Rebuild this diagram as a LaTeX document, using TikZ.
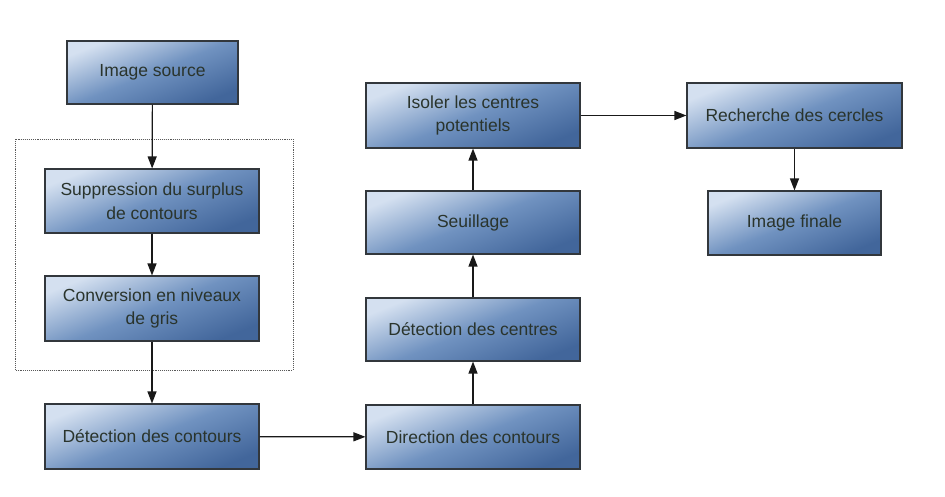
\documentclass[tikz,border=0pt]{standalone}
\usepackage{fontspec}
\setmainfont{Liberation Sans}
\usetikzlibrary{arrows.meta,shadows}
\definecolor{boxlight}{RGB}{212,224,240}
\definecolor{boxmid}{RGB}{112,146,192}
\definecolor{boxdark}{RGB}{66,102,155}
\definecolor{boxtext}{RGB}{42,52,44}
\definecolor{boxedge}{RGB}{50,55,60}
\tikzset{
  stepbox/.style={draw=boxedge, line width=1.1pt, inner sep=0pt,
    top color=boxlight, bottom color=boxdark, middle color=boxmid, shading angle=22,
    text=boxtext, align=center,
    font=\fontsize{17.5}{23.5}\selectfont,
    drop shadow={shadow xshift=1.2pt, shadow yshift=-1.2pt, opacity=0.25, fill=black}},
  flow/.style={draw=black!90, line width=1.2pt, -{Triangle[length=12pt,width=9pt]}},
  groupbox/.style={draw=black!65, line width=0.9pt, densely dotted}
}
\begin{document}
\begin{tikzpicture}[x=1pt,y=-1pt]
\useasboundingbox (0,0) rectangle (945,496);
\draw[groupbox] (15,139) rectangle (293,370);
\node[stepbox, minimum width=171pt, minimum height=63pt] (src) at (152.5,72.5) {Image source};
\node[stepbox, minimum width=214pt, minimum height=64pt] (sup) at (152,201) {Suppression du surplus\\de contours};
\node[stepbox, minimum width=214pt, minimum height=65pt] (conv) at (152,308.5) {Conversion en niveaux\\de gris};
\node[stepbox, minimum width=214pt, minimum height=65pt] (detc) at (152,436.5) {Détection des contours};
\node[stepbox, minimum width=214pt, minimum height=64pt] (dir) at (473,437) {Direction des contours};
\node[stepbox, minimum width=214pt, minimum height=63pt] (cen) at (473,329.5) {Détection des centres};
\node[stepbox, minimum width=214pt, minimum height=63pt] (seu) at (473,222.5) {Seuillage};
\node[stepbox, minimum width=214pt, minimum height=65pt] (iso) at (473,115.5) {Isoler les centres\\potentiels};
\node[stepbox, minimum width=215pt, minimum height=65pt] (rech) at (794.5,115.5) {Recherche des cercles};
\node[stepbox, minimum width=173pt, minimum height=64pt] (fin) at (794.5,223) {Image finale};
\draw[flow] (src) -- (sup);
\draw[flow] (sup) -- (conv);
\draw[flow] (conv) -- (detc);
\draw[flow] (detc) -- (dir);
\draw[flow] (dir) -- (cen);
\draw[flow] (cen) -- (seu);
\draw[flow] (seu) -- (iso);
\draw[flow] (iso) -- (rech);
\draw[flow] (rech) -- (fin);
\end{tikzpicture}
\end{document}
